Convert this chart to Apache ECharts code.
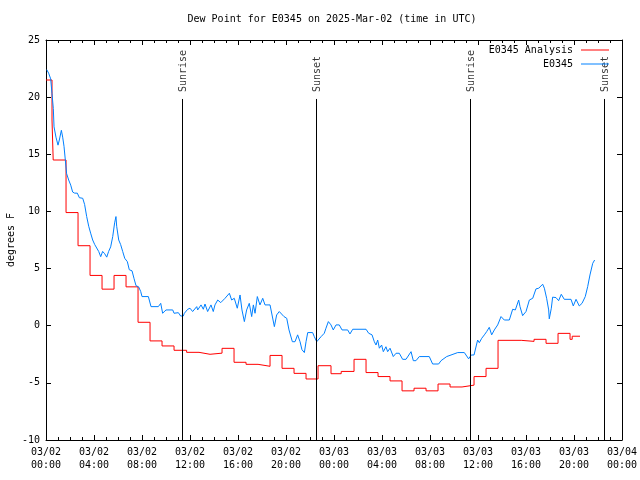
<!DOCTYPE html>
<html>
<head>
<meta charset="utf-8">
<script src="https://cdn.jsdelivr.net/npm/echarts@6/dist/echarts.min.js"></script>
<style>html,body{margin:0;padding:0;background:#fff}#c{width:640px;height:480px}</style>
</head>
<body>
<div id="c"></div>
<script>
// hours after 2025-03-02 00:00 UTC
const xTickLabels = ['03/02\n00:00','03/02\n04:00','03/02\n08:00','03/02\n12:00','03/02\n16:00','03/02\n20:00','03/03\n00:00','03/03\n04:00','03/03\n08:00','03/03\n12:00','03/03\n16:00','03/03\n20:00','03/04\n00:00'];

const redTimes = [0,0.5,0.6,1.67,2.67,3.67,4.67,5.67,6.67,7.67,8.67,9.67,10.67,11.72,12.75,13.67,14.67,15.67,16.67,17.67,18.67,19.67,20.67,21.67,22.67,23.75,24.6,25.67,26.67,27.67,28.67,29.67,30.67,31.67,32.67,33.67,34.67,35.67,36.67,37.67,39.6,40.67,41.67,42.67,43.67,43.85,44.5];
const redValues = [21.5,18.0,14.5,9.9,7.0,4.4,3.2,4.4,3.4,0.3,-1.33,-1.77,-2.15,-2.33,-2.5,-2.4,-1.98,-3.2,-3.38,-3.55,-2.6,-3.73,-4.17,-4.66,-3.5,-4.2,-4.0,-2.94,-4.1,-4.45,-4.83,-5.7,-5.47,-5.7,-5.1,-5.36,-5.2,-4.45,-3.73,-1.28,-1.37,-1.19,-1.54,-0.67,-1.19,-0.92,-0.92];

const blueTimes = [0.06,0.22,0.39,0.5,0.61,0.67,0.83,1.0,1.11,1.28,1.39,1.5,1.61,1.72,1.89,2.06,2.22,2.39,2.61,2.78,3.06,3.22,3.39,3.56,3.72,3.89,4.06,4.22,4.39,4.56,4.72,4.89,5.06,5.22,5.39,5.56,5.72,5.83,5.89,6.06,6.22,6.39,6.56,6.78,6.94,7.17,7.33,7.5,7.72,7.89,8.0,8.53,8.75,9.36,9.56,9.72,10.0,10.56,10.67,10.83,11.03,11.22,11.44,11.53,11.81,12.0,12.22,12.56,12.64,12.92,13.11,13.25,13.47,13.75,13.94,14.08,14.31,14.56,14.92,15.28,15.47,15.69,15.94,16.17,16.33,16.53,16.72,16.94,17.14,17.28,17.42,17.61,17.83,18.06,18.25,18.67,19.03,19.22,19.44,19.83,20.06,20.25,20.53,20.75,20.97,21.17,21.33,21.53,21.67,21.81,22.22,22.36,22.56,22.72,22.92,23.19,23.33,23.53,23.75,23.94,24.17,24.44,24.67,25.14,25.33,25.56,26.67,26.89,27.17,27.36,27.5,27.64,27.78,27.97,28.11,28.33,28.47,28.67,28.94,29.17,29.44,29.72,30.0,30.42,30.61,30.83,31.11,31.94,32.22,32.72,32.92,33.39,34.31,34.86,35.22,35.44,35.67,35.97,36.11,36.31,36.53,36.72,36.94,37.14,37.36,37.64,37.92,38.19,38.61,38.89,39.11,39.39,39.5,39.72,40.0,40.28,40.56,40.83,41.06,41.39,41.53,41.72,41.89,41.94,42.11,42.22,42.5,42.72,42.94,43.19,43.75,43.94,44.17,44.44,44.67,44.94,45.14,45.33,45.56,45.72];
const blueValues = [22.4,22.1,21.6,20.3,19.0,17.4,16.5,15.8,16.25,17.1,16.5,15.7,14.5,13.3,12.75,12.3,11.7,11.6,11.6,11.2,11.15,10.6,9.55,8.7,8.1,7.5,7.1,7.0,6.5,6.04,6.5,6.3,6.0,6.5,6.9,7.8,9.0,9.55,8.7,7.5,7.1,6.5,5.9,5.6,4.9,4.8,4.15,3.5,3.4,3.0,2.55,2.55,1.67,1.67,1.96,1.09,1.38,1.38,1.09,0.94,1.14,0.85,0.85,1.09,1.44,1.53,1.24,1.67,1.38,1.82,1.44,1.9,1.24,1.82,1.24,1.82,2.25,2.02,2.4,2.84,2.25,2.4,1.53,2.69,1.38,0.36,1.38,1.96,0.8,1.82,1.09,2.55,1.82,2.4,1.82,1.82,-0.08,0.94,1.24,0.8,0.65,-0.37,-1.4,-1.4,-0.8,-1.4,-2.1,-2.35,-1.4,-0.6,-0.6,-0.96,-1.4,-1.4,-0.96,-0.66,-0.22,0.36,0.07,-0.37,0.07,0.07,-0.37,-0.37,-0.72,-0.31,-0.31,-0.66,-0.8,-1.4,-1.69,-1.25,-1.97,-1.69,-2.27,-1.84,-2.27,-1.97,-2.7,-2.41,-2.41,-2.94,-2.94,-2.27,-3.06,-3.06,-2.7,-2.7,-3.35,-3.35,-3.06,-2.7,-2.35,-2.35,-2.9,-2.56,-2.56,-1.25,-1.49,-1.1,-0.8,-0.52,-0.14,-0.8,-0.37,0.07,0.8,0.5,0.5,1.44,1.38,2.25,1.67,0.88,1.24,2.25,2.4,3.22,3.28,3.63,3.28,2.4,1.38,0.6,1.53,2.5,2.46,2.19,2.75,2.31,2.31,1.73,2.31,1.73,1.96,2.55,3.42,4.44,5.46,5.75];

const sunNames = ['Sunrise','Sunset','Sunrise','Sunset'];
const sunTimes = [11.33, 22.5, 35.33, 46.5];

const FONT = 'DejaVu Sans Mono';
const zip = (a, b) => a.map((v, i) => [v, b[i]]);

const commonX = {
  type: 'value', min: 0, max: 48, interval: 4,
  axisLine: { show: true, onZero: false, lineStyle: { color: '#000', width: 1 } },
  axisTick: { show: true, inside: true, length: 5, lineStyle: { color: '#000' } },
  minorTick: { show: true, splitNumber: 4, length: 3, lineStyle: { color: '#000' } },
  splitLine: { show: false }, minorSplitLine: { show: false }
};
const commonY = {
  type: 'value', min: -10, max: 25, interval: 5,
  axisLine: { show: true, onZero: false, lineStyle: { color: '#000', width: 1 } },
  axisTick: { show: true, inside: true, length: 5, lineStyle: { color: '#000' } },
  splitLine: { show: false }
};

const chart = echarts.init(document.getElementById('c'), null, { renderer: 'canvas' });
chart.setOption({
  animation: false,
  backgroundColor: '#fff',
  textStyle: { fontFamily: FONT },
  title: {
    text: 'Dew Point for E0345 on 2025-Mar-02 (time in UTC)',
    left: 332, top: 14, textAlign: 'center', padding: 0,
    textStyle: { fontFamily: FONT, fontSize: 10, fontWeight: 'normal', color: '#000' }
  },
  legend: {
    data: ['E0345 Analysis', 'E0345'],
    orient: 'vertical', align: 'right', right: 31, top: 43, padding: 0,
    itemGap: 0, itemWidth: 28, itemHeight: 1, icon: 'rect',
    textStyle: { fontFamily: FONT, fontSize: 10, color: '#000', lineHeight: 14, padding: [0, 3, 0, 0] }
  },
  grid: { left: 46, right: 18, top: 40, bottom: 40, containLabel: false, outerBoundsMode: 'none' },
  xAxis: [
    Object.assign({}, commonX, { position: 'bottom',
      axisLabel: { show: true, margin: 6, fontFamily: FONT, fontSize: 10, color: '#000', lineHeight: 13,
        formatter: v => xTickLabels[Math.round(v / 4)] } }),
    Object.assign({}, commonX, { position: 'top', axisLabel: { show: false } })
  ],
  yAxis: [
    Object.assign({}, commonY, { position: 'left', name: 'degrees F', nameLocation: 'middle', nameGap: 30, nameRotate: 90,
      nameMoveOverlap: false,
      nameTextStyle: { fontFamily: FONT, fontSize: 10, color: '#000' },
      axisLabel: { show: true, margin: 6, fontFamily: FONT, fontSize: 10, color: '#000' } }),
    Object.assign({}, commonY, { position: 'right', axisLabel: { show: false } })
  ],
  series: [
    {
      name: 'E0345 Analysis', type: 'line', step: 'end', showSymbol: false, symbol: 'none',
      data: zip(redTimes, redValues), color: '#ff0000',
      lineStyle: { color: '#ff0000', width: 1 }, z: 2,
      markLine: {
        silent: true, symbol: 'none', label: { show: false },
        lineStyle: { color: '#000', width: 1, type: 'solid' },
        data: sunTimes.map(t => [{ coord: [t, -10] }, { coord: [t, 19.84] }])
      }
    },
    {
      name: 'E0345', type: 'line', showSymbol: false, symbol: 'none',
      data: zip(blueTimes, blueValues), color: '#0080ff',
      lineStyle: { color: '#0080ff', width: 1 }, z: 3
    },
    {
      name: 'sun', type: 'scatter', symbolSize: 0, silent: true,
      data: sunTimes.map((t, i) => ({ value: [t, 20.45], name: sunNames[i] })),
      label: { show: true, position: [1, 0], rotate: 90, align: 'left', verticalAlign: 'middle',
        formatter: p => p.name, fontFamily: FONT, fontSize: 10, color: '#000' }
    }
  ]
});
</script>
</body>
</html>
